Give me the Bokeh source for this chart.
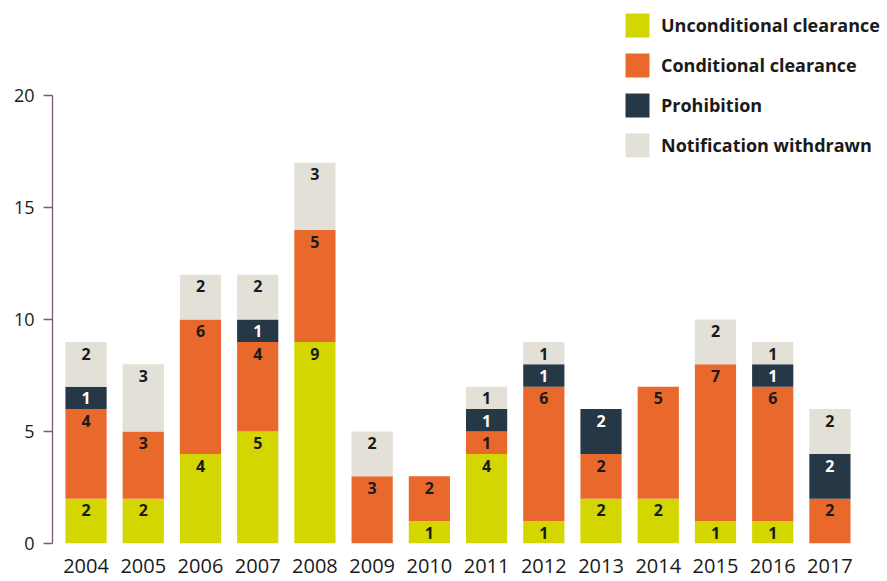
from bokeh.plotting import figure
from bokeh.models import Range1d, ColumnDataSource, FixedTicker
from bokeh.core.properties import value
from bokeh.embed import file_html
from bokeh.resources import INLINE

years = ["2004", "2005", "2006", "2007", "2008", "2009", "2010",
         "2011", "2012", "2013", "2014", "2015", "2016", "2017"]
unconditional = [2, 2, 4, 5, 9, 0, 1, 4, 1, 2, 2, 1, 1, 0]
conditional = [4, 3, 6, 4, 5, 3, 2, 1, 6, 2, 5, 7, 6, 2]
prohibition = [1, 0, 0, 1, 0, 0, 0, 1, 1, 2, 0, 0, 1, 2]
withdrawn = [2, 3, 2, 2, 3, 2, 0, 1, 1, 0, 0, 2, 1, 2]

series_keys = ["unconditional", "conditional", "prohibition", "withdrawn"]
series_names = ["Unconditional clearance", "Conditional clearance",
                "Prohibition", "Notification withdrawn"]
colors = ["#d3d600", "#e9692c", "#263746", "#e2e0d7"]
label_colors = ["#1a1a1a", "#1a1a1a", "#ffffff", "#1a1a1a"]
y_ticks = [0, 5, 10, 15, 20]

FONT = "Open Sans"

# one slot per year along the x axis
pos = list(range(len(years)))

source = ColumnDataSource(dict(
    pos=pos,
    unconditional=unconditional,
    conditional=conditional,
    prohibition=prohibition,
    withdrawn=withdrawn,
))

p = figure(
    width=887, height=581,
    x_range=Range1d(-0.586, len(years) - 1 + 1.006),
    y_range=Range1d(0, 24.02),
    output_backend="svg", toolbar_location=None,
    min_border_left=52, min_border_right=0, min_border_top=5, min_border_bottom=38,
)

p.vbar_stack(series_keys, x="pos", width=0.72, color=colors, source=source,
             line_color=None, legend_label=series_names)

# value labels placed near the top of every non-empty segment
lx, ly, lt, lc = [], [], [], []
for i in pos:
    base = 0
    for vals, col in zip([unconditional, conditional, prohibition, withdrawn], label_colors):
        v = vals[i]
        if v > 0:
            top = base + v
            lx.append(i)
            ly.append(top - 0.52)
            lt.append(str(v))
            lc.append(col)
            base = top
p.text(x=lx, y=ly, text=lt, text_color=lc, text_align="center",
       text_baseline="middle", text_font=value(FONT), text_font_size="16px",
       text_font_style="bold")

# axes
p.xgrid.visible = False
p.ygrid.visible = False
p.outline_line_color = None
p.background_fill_color = "white"
p.border_fill_color = "white"

xa = p.xaxis[0]
xa.ticker = FixedTicker(ticks=pos)
xa.major_label_overrides = {i: y for i, y in zip(pos, years)}
xa.axis_line_color = None
xa.major_tick_line_color = None
xa.minor_tick_line_color = None
xa.major_label_text_font = FONT
xa.major_label_text_font_size = "20px"
xa.major_label_text_color = "#1a1a1a"
xa.major_label_standoff = 9

ya = p.yaxis[0]
ya.ticker = y_ticks
ya.bounds = (0, 20)
ya.axis_line_color = "#7b5a78"
ya.axis_line_width = 1.3
ya.major_tick_line_color = "#7b5a78"
ya.major_tick_line_width = 1.3
ya.major_tick_out = 9
ya.major_tick_in = 0
ya.minor_tick_line_color = None
ya.major_label_text_font = FONT
ya.major_label_text_font_size = "18px"
ya.major_label_text_color = "#1a1a1a"
ya.major_label_standoff = 9

lg = p.legend[0]
lg.location = (570, 383)
lg.padding = 0
lg.margin = 0
lg.spacing = 10
lg.glyph_width = 30
lg.glyph_height = 30
lg.label_standoff = 9
lg.label_height = 30
lg.label_text_font = FONT
lg.label_text_font_size = "18px"
lg.label_text_font_style = "bold"
lg.label_text_color = "#1a1a1a"
lg.border_line_color = None
lg.background_fill_alpha = 0

open("out.html", "w").write(file_html(p, INLINE))
